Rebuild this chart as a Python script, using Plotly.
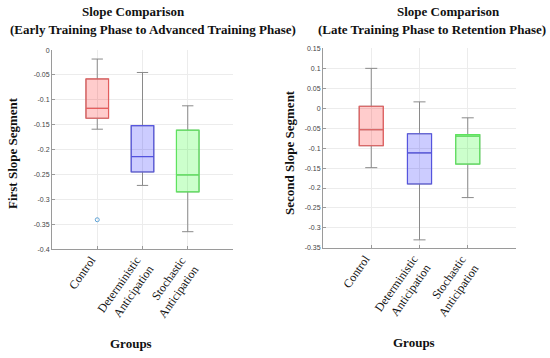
import plotly.graph_objects as go

groups = ["Control", "Deterministic<br>Anticipation", "Stochastic<br>Anticipation"]
positions = [1, 2, 3]

# First slope segment (left panel)
first_q1 = [-0.137, -0.245, -0.285]
first_median = [-0.117, -0.214, -0.251]
first_q3 = [-0.058, -0.152, -0.161]
first_low = [-0.159, -0.272, -0.365]
first_high = [-0.018, -0.045, -0.112]
first_outlier_x = [1]
first_outlier_y = [-0.341]

# Second slope segment (right panel)
second_q1 = [-0.094, -0.190, -0.140]
second_median = [-0.054, -0.112, -0.070]
second_q3 = [0.005, -0.064, -0.066]
second_low = [-0.149, -0.330, -0.224]
second_high = [0.100, 0.016, -0.024]

left_ticks = [0, -0.05, -0.1, -0.15, -0.2, -0.25, -0.3, -0.35, -0.4]
left_ticktext = ["0", "-0.05", "-0.1", "-0.15", "-0.2", "-0.25", "-0.3", "-0.35", "-0.4"]
right_ticks = [0.15, 0.1, 0.05, 0, -0.05, -0.1, -0.15, -0.2, -0.25, -0.3, -0.35]
right_ticktext = ["0.15", "0.1", "0.05", "0", "-0.05", "-0.1", "-0.15", "-0.2", "-0.25", "-0.3", "-0.35"]

fills = ["rgba(255,0,0,0.2)", "rgba(0,0,255,0.2)", "rgba(0,255,0,0.2)"]
edges = ["rgba(235,90,90,0.9)", "rgba(80,80,230,0.9)", "rgba(90,235,90,0.9)"]
whisker_color = "#8a8a8a"

fig = go.Figure()

def add_panel(xa, ya, q1s, meds, q3s, lows, highs):
    for i in range(3):
        # whiskers (gray)
        fig.add_trace(go.Box(
            x=[positions[i]], q1=[q1s[i]], median=[meds[i]], q3=[q3s[i]],
            lowerfence=[lows[i]], upperfence=[highs[i]],
            width=0.5, whiskerwidth=0.5, boxpoints=False,
            line=dict(color=whisker_color, width=1), fillcolor="rgba(0,0,0,0)",
            xaxis=xa, yaxis=ya, showlegend=False, hoverinfo="skip"))
        # coloured box
        fig.add_trace(go.Box(
            x=[positions[i]], q1=[q1s[i]], median=[meds[i]], q3=[q3s[i]],
            lowerfence=[q1s[i]], upperfence=[q3s[i]],
            width=0.5, whiskerwidth=0, boxpoints=False,
            line=dict(color=edges[i], width=1.2), fillcolor=fills[i],
            xaxis=xa, yaxis=ya, showlegend=False))

add_panel("x", "y", first_q1, first_median, first_q3, first_low, first_high)
add_panel("x2", "y2", second_q1, second_median, second_q3, second_low, second_high)

fig.add_trace(go.Scatter(
    x=first_outlier_x, y=first_outlier_y, mode="markers",
    marker=dict(symbol="circle-open", size=4, color="#5fa3d6", line=dict(width=1)),
    xaxis="x", yaxis="y", showlegend=False))

serif = "Liberation Serif, DejaVu Serif, serif"
sans = "Liberation Sans, Arial, sans-serif"

xcommon = dict(range=[0, 4], tickvals=positions, showticklabels=False,
               showgrid=True, gridcolor="#ececec", showline=True, linecolor="#9a9a9a",
               ticks="inside", ticklen=3, tickcolor="#9a9a9a", zeroline=False, mirror=False)
ycommon = dict(tickfont=dict(family=sans, size=7, color="#444"),
               showgrid=True, gridcolor="#ececec", showline=True, linecolor="#9a9a9a",
               ticks="inside", ticklen=3, tickcolor="#9a9a9a", zeroline=False, mirror=False)

fig.update_layout(
    width=550, height=358,
    margin=dict(l=0, r=0, t=0, b=0),
    paper_bgcolor="white", plot_bgcolor="white",
    boxmode="overlay",
    xaxis=dict(domain=[52/550, 233/550], anchor="y", **xcommon),
    yaxis=dict(domain=[1-250/358, 1-47/358], anchor="x", range=[-0.4, 0],
               tickvals=left_ticks, ticktext=left_ticktext, **ycommon),
    xaxis2=dict(domain=[323/550, 516/550], anchor="y2", **xcommon),
    yaxis2=dict(domain=[1-248.7/358, 1-45.3/358], anchor="x2", range=[-0.35, 0.15],
                tickvals=right_ticks, ticktext=right_ticktext, **ycommon),
)

# rotated category labels
for xa, ya in (("x", "y"), ("x2", "y2")):
    for pos, label in zip(positions, groups):
        multi = "<br>" in label
        fig.add_annotation(text=label, x=pos, y=0, xref=xa, yref=ya + " domain",
                           showarrow=False, textangle=-55, align="right",
                           xanchor="right", yanchor="top",
                           xshift=17 if multi else 4, yshift=-2,
                           font=dict(family=serif, size=12, color="#111"))

def ann(text, x, y, angle=0, size=13):
    fig.add_annotation(text="<b>%s</b>" % text, x=x/550, y=1-y/358, xref="paper", yref="paper",
                       showarrow=False, textangle=angle, xanchor="center", yanchor="middle",
                       font=dict(family=serif, size=size, color="#111"))

ann("Slope Comparison", 133.5, 8)
ann("(Early Training Phase to Advanced Training Phase)", 152.5, 26)
ann("Slope Comparison", 448, 8)
ann("(Late Training Phase to Retention Phase)", 432, 26)
ann("First Slope Segment", 12, 152, angle=-90)
ann("Second Slope Segment", 289, 152, angle=-90)
ann("Groups", 131, 346)
ann("Groups", 414, 345)

fig.write_html("out.html", config={"displayModeBar": False},
               post_script="document.body.style.margin='0';document.body.style.overflow='hidden';")
